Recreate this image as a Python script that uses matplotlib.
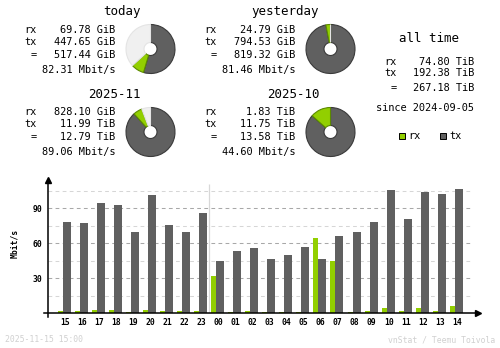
import matplotlib
matplotlib.use("Agg")
import matplotlib.pyplot as plt

# ---- data -------------------------------------------------------------
hours = ["15", "16", "17", "18", "19", "20", "21", "22", "23", "00", "01", "02",
         "03", "04", "05", "06", "07", "08", "09", "10", "11", "12", "13", "14"]
rx_mbit = [2.0, 2.0, 2.9, 2.9, 1.1, 2.9, 2.0, 2.0, 2.0, 32.0, 1.1, 2.0,
           1.1, 1.1, 1.1, 64.6, 44.9, 1.1, 2.0, 4.6, 2.0, 4.6, 2.0, 6.3]
tx_mbit = [78.3, 77.4, 94.6, 92.9, 69.7, 101.4, 75.7, 69.7, 86.0, 44.9, 53.4, 56.0,
           46.6, 50.0, 56.9, 46.6, 66.3, 69.7, 78.3, 105.7, 80.9, 104.0, 102.3, 106.6]
y_ticks = [30, 60, 90]

# summary periods: (title, rx, tx, total, rate, rx value, tx value, max of pair)
today = ("today", "69.78 GiB", "447.65 GiB", "517.44 GiB", "82.31 Mbit/s", 69.78, 447.65, 819.32)
yesterday = ("yesterday", "24.79 GiB", "794.53 GiB", "819.32 GiB", "81.46 Mbit/s", 24.79, 794.53, 819.32)
month_cur = ("2025-11", "828.10 GiB", "11.99 TiB", "12.79 TiB", "89.06 Mbit/s", 828.10 / 1024, 11.99, 13.58)
month_prev = ("2025-10", "1.83 TiB", "11.75 TiB", "13.58 TiB", "44.60 Mbit/s", 1.83, 11.75, 13.58)
all_time = ("all time", "74.80 TiB", "192.38 TiB", "267.18 TiB", "since 2024-09-05")
stamp_text = "2025-11-15 15:00"
credit_text = "vnStat / Teemu Toivola"

# ---- style ------------------------------------------------------------
W, H = 500, 348
RX_C, TX_C = "#92cf00", "#606060"
RX_EDGE, TX_EDGE = "#5c8a00", "#3a3a3a"
UNUSED_C = "#f0f0f0"
MONO = "DejaVu Sans Mono"

fig = plt.figure(figsize=(W / 100, H / 100), dpi=100)
fig.patch.set_facecolor("white")


def txt(x, y, s, size=7.4, ha="left", color="black", weight="normal", **kw):
    fig.text(x / W, 1 - y / H, s, fontsize=size, ha=ha, va="center",
             family=MONO, color=color, weight=weight, **kw)


def block(period, x0, y0):
    title, rx, tx, tot, rate = period[:5]
    title_cx = {"today": 122, "yesterday": 285.5, "2025-11": 114, "2025-10": 293.5}[title]
    txt(title_cx, y0, title, size=9, ha="center")
    lab_r = x0 + 12
    val_r = x0 + 90.3
    for dy, lab, val in ((18, "rx", rx), (30, "tx", tx), (43, "=", tot)):
        txt(lab_r, y0 + dy, lab, ha="right")
        txt(val_r, y0 + dy, val, ha="right")
    txt(val_r, y0 + 58, rate, ha="right")


def pie(period, cx, cy):
    rx_v, tx_v, top = period[5], period[6], period[7]
    unused = max(top - rx_v - tx_v, 0)
    box = 54
    ax = fig.add_axes([(cx - box / 2) / W, 1 - (cy + box / 2) / H, box / W, box / H])
    vals = [tx_v, rx_v] + ([unused] if unused > 0 else [])
    cols = [TX_C, RX_C] + ([UNUSED_C] if unused > 0 else [])
    edges = [TX_EDGE, RX_EDGE, "#e4e4e4"]
    wedges, _ = ax.pie(vals, colors=cols, startangle=90, counterclock=False,
                       radius=1.0, wedgeprops=dict(width=18 / 24.5, linewidth=0.8))
    for w, e in zip(wedges, edges):
        w.set_edgecolor(e)
    lim = box / 2 / 24.5
    ax.set_xlim(-lim, lim)
    ax.set_ylim(-lim, lim)
    ax.set_aspect("equal")
    ax.axis("off")


block(today, 25, 11.7)
block(yesterday, 205, 11.7)
block(month_cur, 25, 94)
block(month_prev, 205, 94)
pie(today, 150.5, 49)
pie(yesterday, 330.5, 49)
pie(month_cur, 150.5, 132)
pie(month_prev, 330.5, 132)

# all time column
txt(429, 39, all_time[0], size=9, ha="center")
for y, lab, val in ((62, "rx", all_time[1]), (73, "tx", all_time[2]), (88, "=", all_time[3])):
    txt(396.5, y, lab, ha="right")
    txt(474, y, val, ha="right")
txt(474, 108, all_time[4], ha="right")

# legend
for x, c, lab in ((399, RX_C, "rx"), (440, TX_C, "tx")):
    fig.patches.append(plt.Rectangle((x / W, 1 - 139 / H), 5.5 / W, 5.5 / H,
                                     transform=fig.transFigure, facecolor=c,
                                     edgecolor="black", linewidth=0.7))
    txt(x + 9, 136, lab)

# ---- hourly bar chart -------------------------------------------------
px_per_unit = 35 / 30.0
x0_px, y0_px = 48.3, 313.3
hour_step = 17.03
first_center = 65.2
ytop = (y0_px - 180) / px_per_unit
xl = (x0_px - first_center) / hour_step
xr = (478 - first_center) / hour_step
ax = fig.add_axes([x0_px / W, 1 - y0_px / H, (478 - x0_px) / W, (y0_px - 180) / H])
ax.set_xlim(xl, xr)
ax.set_ylim(0, ytop)
for s in ax.spines.values():
    s.set_visible(False)

idx = list(range(len(hours)))
grid_end = (473 - first_center) / hour_step
for v in (15, 45, 75, 105):
    ax.hlines(v, xl, grid_end, colors="#d6d6d6", linewidth=0.75,
              linestyles=(0, (3.6, 3.2)), zorder=0)
for v in y_ticks:
    ax.hlines(v, xl, grid_end, colors="#a8a8a8", linewidth=0.75,
              linestyles=(0, (3.6, 3.2)), zorder=0)

# day boundary between 23 and 00
ax.vlines(8.47, 0, (y0_px - 184) / px_per_unit, colors="#d8d8d8", linewidth=0.9, zorder=1)

ax.bar([i - 0.423 for i in idx], rx_mbit, width=0.294, align="edge", color=RX_C, zorder=2)
ax.bar([i - 0.129 for i in idx], tx_mbit, width=0.47, align="edge", color=TX_C, zorder=2)

# axis lines with arrow heads
ax.plot([0 * xl + xl, xl], [-4 / px_per_unit, ytop], color="black", lw=1.1,
        clip_on=False, zorder=3)
ax.plot([xl - 4 / hour_step, xr], [0, 0], color="black", lw=1.1, clip_on=False, zorder=3)
ax.plot([xl], [ytop], marker="^", color="black", markersize=4, clip_on=False, zorder=4)
ax.plot([xr], [0], marker=">", color="black", markersize=4, clip_on=False, zorder=4)

ax.set_yticks(y_ticks)
ax.set_yticklabels([str(v) for v in y_ticks], family=MONO, fontsize=5.8, weight="bold")
ax.set_xticks(idx)
ax.set_xticklabels(hours, family=MONO, fontsize=5.8, weight="bold")
ax.tick_params(length=0, axis="y", pad=4)
ax.tick_params(length=0, axis="x", pad=3.2)
ax.set_facecolor("none")

txt(15, 243, "Mbit/s", size=5.8, ha="center", weight="bold", rotation=90)

# footer
txt(5, 340, stamp_text, size=5.9, color="#d0d0d0")
txt(495, 340, credit_text, size=5.9, ha="right", color="#d0d0d0")

fig.savefig("out.png", dpi=100, facecolor="white")
